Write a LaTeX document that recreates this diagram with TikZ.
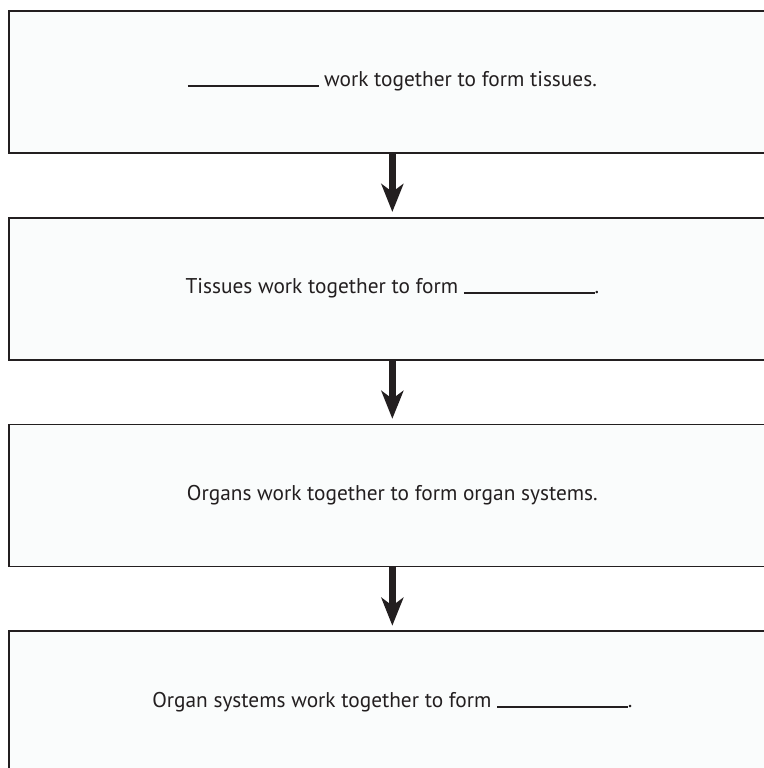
\documentclass[tikz,border=0pt]{standalone}
\usepackage{fontspec}
\setmainfont{PT Sans}
\usetikzlibrary{positioning,arrows.meta}
\definecolor{inkdark}{HTML}{231F20}
\definecolor{boxfill}{HTML}{FAFCFC}
\tikzset{
	stepbox/.style={draw=inkdark, fill=boxfill, line width=1.4pt, inner sep=0pt,
		minimum width=575.5pt, minimum height=106.5pt, text=inkdark,
		font=\fontsize{16}{19}\selectfont},
	flow/.style={draw=inkdark, line width=5.25pt, shorten >=3.5pt,
		-{Stealth[length=21pt, width=16.5pt, inset=6pt]}},
}
\newcommand{\blankline}{\rule{98pt}{1.3pt}}
\begin{document}
\begin{tikzpicture}[x=0.75pt, y=-0.75pt]
	\clip (0,0) rectangle (764,768);
	\fill[white] (0,0) rectangle (764,768);
	
	% Các ô
	\node[stepbox] (cells) at (392.35, 81.7) {\blankline{} work together to form tissues.};
	\node[stepbox, below=47.25pt of cells] (tissues) {Tissues work together to form \blankline.};
	\node[stepbox, below=47.25pt of tissues] (organs) {Organs work together to form organ systems.};
	\node[stepbox, below=47.25pt of organs] (systems) {Organ systems work together to form \blankline.};
	
	% Mũi tên
	\draw[flow] (cells) -- (tissues);
	\draw[flow] (tissues) -- (organs);
	\draw[flow] (organs) -- (systems);
\end{tikzpicture}
\end{document}
